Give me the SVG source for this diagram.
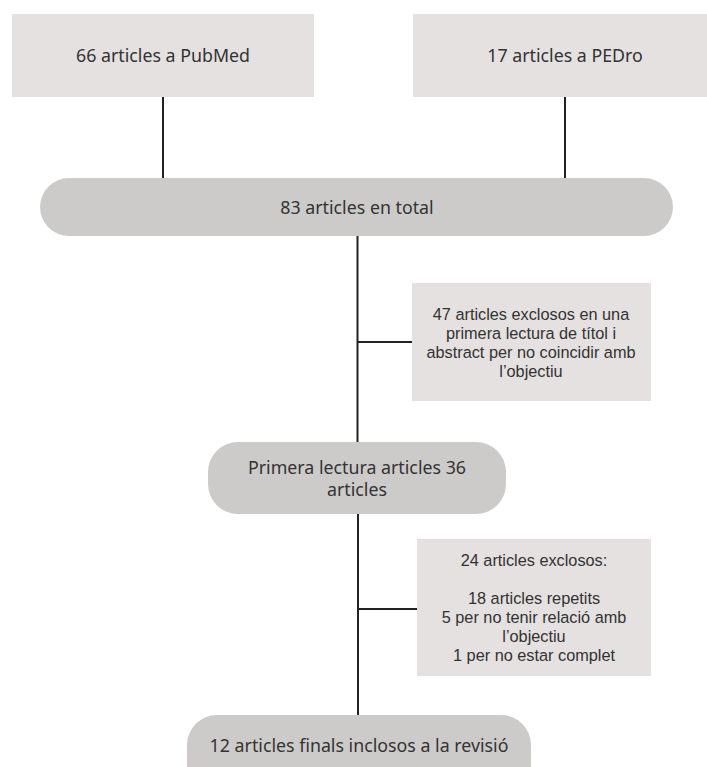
<svg xmlns="http://www.w3.org/2000/svg" width="707" height="767" viewBox="0 0 707 767">
<style>
.box{fill:#e4e1e0}
.pill{fill:#cdcbca}
.t{font-family:"Noto Sans","Liberation Sans",sans-serif;fill:#333;text-anchor:middle}
.big{font-size:17.8px}
.sm{font-family:"Liberation Sans","Noto Sans",sans-serif;font-size:16.3px}
.c{stroke:#222;stroke-width:2;fill:none}
</style>
<rect width="707" height="767" fill="#fff"/>
<g id="connectors">
<line class="c" x1="163" y1="97" x2="163" y2="178"/>
<line class="c" x1="565" y1="97" x2="565" y2="178"/>
<line class="c" x1="357.5" y1="236" x2="357.5" y2="442"/>
<line class="c" x1="357.5" y1="342" x2="412" y2="342"/>
<line class="c" x1="358" y1="514" x2="358" y2="715"/>
<line class="c" x1="358" y1="609" x2="417" y2="609"/>
</g>
<g id="pubmed">
<rect class="box" x="12" y="14" width="302" height="83"/>
<text class="t big" x="163" y="62">66 articles a PubMed</text>
</g>
<g id="pedro">
<rect class="box" x="413" y="14" width="294" height="83"/>
<text class="t big" x="565" y="62">17 articles a PEDro</text>
</g>
<g id="total">
<rect class="pill" x="40" y="178" width="633" height="58" rx="29"/>
<text class="t big" x="357" y="214">83 articles en total</text>
</g>
<g id="excl1">
<rect class="box" x="412" y="283" width="239" height="118"/>
<text class="t sm" x="531" y="320">47 articles exclosos en una</text>
<text class="t sm" x="531" y="339">primera lectura de títol i</text>
<text class="t sm" x="531" y="358">abstract per no coincidir amb</text>
<text class="t sm" x="531" y="377">l’objectiu</text>
</g>
<g id="primera">
<rect class="pill" x="208" y="442" width="298" height="72" rx="30"/>
<text class="t big" x="357" y="474">Primera lectura articles 36</text>
<text class="t big" x="357" y="496">articles</text>
</g>
<g id="excl2">
<rect class="box" x="417" y="539" width="234" height="137"/>
<text class="t sm" x="534" y="566">24 articles exclosos:</text>
<text class="t sm" x="534" y="604">18 articles repetits</text>
<text class="t sm" x="534" y="623">5 per no tenir relació amb</text>
<text class="t sm" x="534" y="642">l’objectiu</text>
<text class="t sm" x="534" y="661">1 per no estar complet</text>
</g>
<g id="final">
<rect class="pill" x="187" y="715" width="344" height="80" rx="30"/>
<text class="t big" x="359" y="752">12 articles finals inclosos a la revisió</text>
</g>
</svg>
